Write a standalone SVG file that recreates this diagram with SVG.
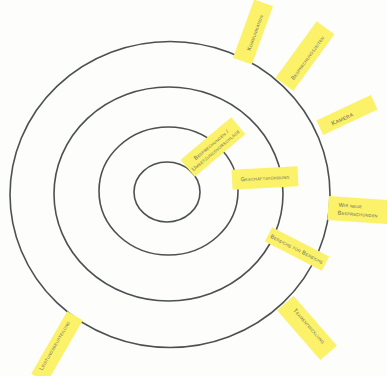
<svg xmlns="http://www.w3.org/2000/svg" width="387" height="376" viewBox="0 0 387 376">
<style>
.ring{fill:none;stroke:#4b5150;stroke-width:1.6}
.note{fill:#fbf26a}
.t{font-family:"Liberation Sans",Arial,sans-serif;font-size:5.6px;font-variant:small-caps;fill:#6b6a55;text-anchor:middle;dominant-baseline:central;letter-spacing:0.2px}
</style>
<rect width="387" height="376" fill="#fdfdfc"/>
<g id="rings">
<ellipse class="ring" cx="170" cy="194.5" rx="160" ry="153"/>
<ellipse class="ring" cx="168.5" cy="194" rx="114.5" ry="107"/>
<ellipse class="ring" cx="168.5" cy="191" rx="69.5" ry="64"/>
<ellipse class="ring" cx="167" cy="192" rx="33" ry="30"/>
</g>
<g id="n1" transform="translate(253,32) rotate(-70)">
<rect class="note" x="-31" y="-10" width="62" height="20"/>
<text class="t" x="0" y="2">Kommunikation</text>
</g>
<g id="n2" transform="translate(305,56) rotate(-54)">
<rect class="note" x="-35" y="-11" width="70" height="22"/>
<text class="t" x="0" y="3">Besprechungszeiten</text>
</g>
<g id="n3" transform="translate(347,115) rotate(-25)">
<rect class="note" x="-30" y="-8" width="60" height="16"/>
<text class="t" x="-6" y="1" style="font-size:6.5px">Kamera</text>
</g>
<g id="n4" transform="translate(213,147) rotate(-40)">
<rect class="note" x="-33" y="-11" width="66" height="22"/>
<text class="t" x="0" y="-3">Besprechungen /</text>
<text class="t" x="0" y="4">Umsetzungsvorschläge</text>
</g>
<g id="n5" transform="translate(265,178) rotate(-3)">
<rect class="note" x="-33" y="-10" width="66" height="20"/>
<text class="t" x="0" y="0">Geschäftsführung</text>
</g>
<g id="n6" transform="translate(358,210) rotate(4)">
<rect class="note" x="-30" y="-12" width="62" height="24"/>
<text class="t" x="-8" y="-4">Wir neue</text>
<text class="t" x="0" y="4">Besprechungen</text>
</g>
<g id="n7" transform="translate(297,249) rotate(27)">
<rect class="note" x="-32" y="-8" width="64" height="16"/>
<text class="t" x="0" y="0">Bereiche für Bereiche</text>
</g>
<g id="n8" transform="translate(307,328) rotate(49)">
<rect class="note" x="-33" y="-11" width="66" height="22"/>
<text class="t" x="0" y="-3">Teamentwicklung</text>
</g>
<g id="n9" transform="translate(57,347) rotate(-60)">
<rect class="note" x="-36" y="-9" width="72" height="18"/>
<text class="t" x="0" y="-3">Leistungsbeurteilung</text>
</g>
</svg>
